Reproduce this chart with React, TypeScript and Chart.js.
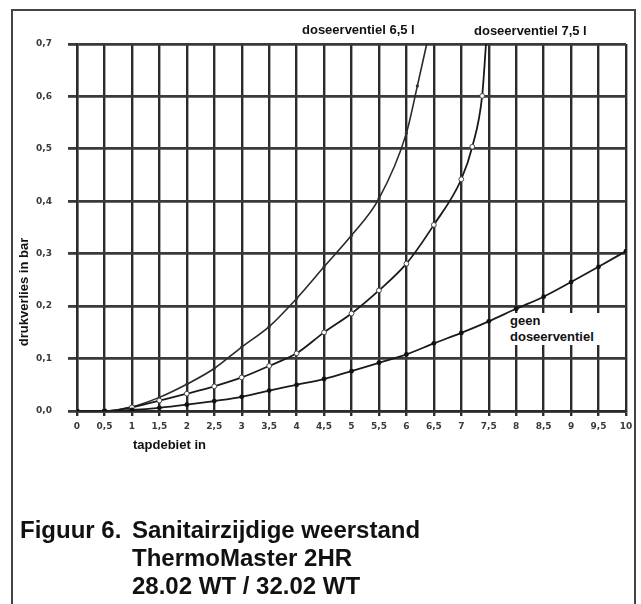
import React, { useEffect, useRef } from "react";
import { Chart, registerables } from "chart.js";

Chart.register(...registerables);

// ---- data ----
const xTickLabels = ["0", "0,5", "1", "1,5", "2", "2,5", "3", "3,5", "4", "4,5", "5", "5,5", "6", "6,5", "7", "7,5", "8", "8,5", "9", "9,5", "10"];
const yTickLabels = ["0,0", "0,1", "0,2", "0,3", "0,4", "0,5", "0,6", "0,7"];

const xNoValve = [0, 0.5, 1, 1.5, 2, 2.5, 3, 3.5, 4, 4.5, 5, 5.5, 6, 6.5, 7, 7.5, 8, 8.5, 9, 9.5, 10];
const yNoValve = [0, 0, 0.002, 0.006, 0.012, 0.019, 0.027, 0.039, 0.05, 0.061, 0.076, 0.092, 0.108, 0.129, 0.149, 0.171, 0.195, 0.218, 0.246, 0.275, 0.305];

const xValve75 = [0, 0.5, 1, 1.5, 2, 2.5, 3, 3.5, 4, 4.5, 5, 5.5, 6, 6.5, 7, 7.2, 7.38, 7.45];
const yValve75 = [0, 0, 0.007, 0.02, 0.033, 0.047, 0.064, 0.086, 0.11, 0.15, 0.186, 0.23, 0.281, 0.355, 0.442, 0.504, 0.601, 0.7];

const xValve65 = [0, 0.5, 1, 1.5, 2, 2.5, 3, 3.5, 4, 4.5, 5, 5.5, 6, 6.2, 6.37];
const yValve65 = [0, 0, 0.008, 0.026, 0.051, 0.081, 0.122, 0.161, 0.2145, 0.275, 0.335, 0.405, 0.53, 0.62, 0.7];

const toPoints = (xs: number[], ys: number[]) => xs.map((x, i) => ({ x, y: ys[i] }));

const FONT = "'Liberation Sans', Arial, Helvetica, sans-serif";

export default function App() {
  const canvasRef = useRef<HTMLCanvasElement | null>(null);

  useEffect(() => {
    if (!canvasRef.current) return;
    const tickFont = { family: "'DejaVu Sans', sans-serif", size: 9, weight: "bold" as const };
    const chart = new Chart(canvasRef.current, {
      type: "line",
      data: {
        datasets: [
          {
            label: "geen doseerventiel",
            data: toPoints(xNoValve, yNoValve),
            borderColor: "#1a1a1a",
            borderWidth: 1.8,
            backgroundColor: "#111",
            pointBackgroundColor: "#111",
            pointBorderColor: "#111",
            pointRadius: 2.4,
            pointBorderWidth: 0,
            cubicInterpolationMode: "monotone",
          },
          {
            label: "doseerventiel 7,5 l",
            data: toPoints(xValve75, yValve75),
            borderColor: "#1a1a1a",
            borderWidth: 1.8,
            pointBackgroundColor: "#ffffff",
            pointBorderColor: "#444",
            pointBorderWidth: 1,
            pointRadius: (ctx: any) => (ctx.dataIndex === xValve75.length - 1 ? 0 : 2.4),
            cubicInterpolationMode: "monotone",
          },
          {
            label: "doseerventiel 6,5 l",
            data: toPoints(xValve65, yValve65),
            borderColor: "#2a2a2a",
            borderWidth: 1.6,
            pointBackgroundColor: "#333",
            pointBorderColor: "#333",
            pointBorderWidth: 0,
            pointRadius: (ctx: any) => (ctx.dataIndex === xValve65.length - 1 ? 0 : 1.6),
            cubicInterpolationMode: "monotone",
          },
        ],
      },
      options: {
        animation: false,
        responsive: false,
        events: [],
        layout: { padding: { left: 0, right: 15, top: 44, bottom: 0 } },
        plugins: {
          legend: { display: false },
          tooltip: { enabled: false },
          title: { display: false },
        },
        scales: {
          x: {
            type: "linear",
            min: 0,
            max: 10,
            afterFit: (scale: any) => {
              scale.height = 59;
            },
            grid: { color: "#2b2b2b", lineWidth: 2.4, tickLength: 5, drawTicks: true },
            border: { display: true, color: "#2b2b2b", width: 2.4 },
            ticks: {
              stepSize: 0.5,
              autoSkip: false,
              maxRotation: 0,
              padding: 5,
              color: "#3a3a3a",
              font: tickFont,
              callback: (_v: any, i: number) => xTickLabels[i],
            },
          },
          y: {
            type: "linear",
            min: 0,
            max: 0.7,
            afterFit: (scale: any) => {
              scale.width = 77;
            },
            grid: { color: "#3a3a3a", lineWidth: 2.8, tickLength: 9, drawTicks: true },
            border: { display: true, color: "#2b2b2b", width: 2.4 },
            ticks: {
              stepSize: 0.1,
              padding: 16,
              color: "#3a3a3a",
              font: tickFont,
              callback: (_v: any, i: number) => yTickLabels[i],
            },
          },
        },
      },
    } as any);
    return () => chart.destroy();
  }, []);

  const label: React.CSSProperties = {
    position: "absolute",
    fontFamily: FONT,
    fontWeight: "bold",
    fontSize: 13,
    color: "#111",
    background: "#fff",
    whiteSpace: "nowrap",
    lineHeight: "16px",
  };
  const caption: React.CSSProperties = {
    position: "absolute",
    fontFamily: FONT,
    fontWeight: "bold",
    fontSize: 24,
    lineHeight: "28px",
    color: "#111",
    whiteSpace: "nowrap",
  };

  return (
    <div
      style={{
        position: "absolute",
        left: 0,
        top: 0,
        width: 641,
        height: 604,
        overflow: "hidden",
        background: "#fff",
      }}
    >
      <canvas
        ref={canvasRef}
        width={641}
        height={470}
        style={{ position: "absolute", left: 0, top: 0, width: 641, height: 470 }}
      />
      <div
        style={{
          position: "absolute",
          left: 11,
          top: 9,
          width: 621,
          height: 620,
          border: "2px solid #444",
          pointerEvents: "none",
        }}
      />
      <div style={{ ...label, left: 302, top: 22 }}>doseerventiel 6,5 l</div>
      <div style={{ ...label, left: 474, top: 23 }}>doseerventiel 7,5 l</div>
      <div style={{ ...label, left: 508, top: 313, padding: "0 6px 0 2px", lineHeight: "16px" }}>
        geen
        <br />
        doseerventiel
      </div>
      <div style={{ ...label, left: 133, top: 437, background: "transparent" }}>tapdebiet in</div>
      <div
        style={{
          ...label,
          background: "transparent",
          left: 24,
          top: 292,
          transform: "translate(-50%, -50%) rotate(-90deg)",
        }}
      >
        drukverlies in bar
      </div>
      <div style={{ ...caption, left: 20, top: 516 }}>Figuur 6.</div>
      <div style={{ ...caption, left: 132, top: 516 }}>
        Sanitairzijdige weerstand
        <br />
        ThermoMaster 2HR
        <br />
        28.02 WT / 32.02 WT
      </div>
    </div>
  );
}
